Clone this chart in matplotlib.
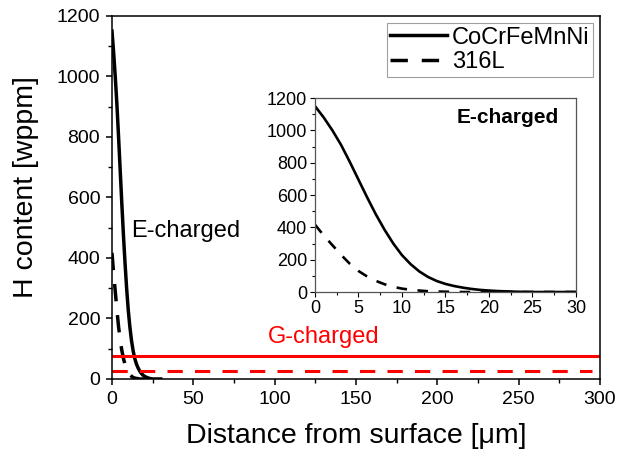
import matplotlib
matplotlib.use("Agg")
import matplotlib.pyplot as plt
from matplotlib.ticker import MultipleLocator

plt.rcParams['font.family'] = ['Liberation Sans', 'DejaVu Sans']

# hydrogen profiles (depth in um, H in wppm)
depth = list(range(0, 31))
h_cantor = [1150, 1080, 1000, 910, 805, 695, 585, 480, 385, 300, 228, 172, 127, 93, 68,
            50, 37, 27, 19, 13, 9, 6, 4, 2, 1, 0, 0, 0, 0, 0, 0]
h_316l = [417, 350, 290, 230, 175, 130, 96, 69, 48, 32, 21, 14, 9, 5, 3,
          2, 1, 0, 0, 0, 0, 0, 0, 0, 0, 0, 0, 0, 0, 0, 0]

# gas charged levels
g_range = [0, 300]
g_cantor = 75
g_316l = 25

fig = plt.figure(figsize=(6.17, 4.57), dpi=100)
ax = fig.add_axes([0.1815, 0.1707, 0.7909, 0.7943])

ax.plot(depth, h_cantor, color='k', lw=2.5, label='CoCrFeMnNi')
ax.plot(depth, h_316l, color='k', lw=2.5, dashes=(5, 4), label='316L')
ax.plot(g_range, [g_cantor, g_cantor], color='#ff0000', lw=2.2)
ax.plot([0, 295], [g_316l, g_316l], color='#ff0000', lw=2.2, dashes=(5, 4))

ax.set_xlim(0, 300)
ax.set_ylim(0, 1200)
ax.xaxis.set_major_locator(MultipleLocator(50))
ax.xaxis.set_minor_locator(MultipleLocator(25))
ax.yaxis.set_major_locator(MultipleLocator(200))
ax.yaxis.set_minor_locator(MultipleLocator(100))
ax.tick_params(which='major', direction='out', length=4.5, width=1.1, labelsize=14, pad=4)
ax.tick_params(which='minor', direction='out', length=2.8, width=1.0)
for s in ax.spines.values():
    s.set_linewidth(1.1)

ax.set_xlabel('Distance from surface [\u03bcm]', fontsize=20.5, labelpad=11)
ax.set_ylabel('H content [wppm]', fontsize=20.5)
ax.yaxis.set_label_coords(-0.15, 0.53)

ax.text(45.5, 489, 'E-charged', fontsize=17, ha='center', va='center')
ax.text(130, 139, 'G-charged', fontsize=17, ha='center', va='center', color='#ff0000')

leg = ax.legend(loc='upper right', fontsize=17, frameon=True, fancybox=False,
                borderaxespad=0.3, handlelength=2.4, handletextpad=0.2,
                borderpad=0.15, labelspacing=0.1)
leg.get_frame().set_edgecolor('#888888')
leg.get_frame().set_linewidth(0.8)

# inset zoom on first 30 um
ins = fig.add_axes([0.5105, 0.361, 0.423, 0.4245])
ins.plot(depth, h_cantor, color='k', lw=1.9)
ins.plot(depth, h_316l, color='k', lw=1.9, dashes=(4, 4))
ins.set_xlim(0, 30)
ins.set_ylim(0, 1200)
ins.xaxis.set_major_locator(MultipleLocator(5))
ins.xaxis.set_minor_locator(MultipleLocator(2.5))
ins.yaxis.set_major_locator(MultipleLocator(200))
ins.yaxis.set_minor_locator(MultipleLocator(100))
ins.tick_params(which='major', direction='out', length=3.5, width=0.8, labelsize=13, pad=2)
ins.tick_params(which='minor', direction='out', length=2, width=0.8)
for s in ins.spines.values():
    s.set_linewidth(0.9)
    s.set_color('#555555')
ins.text(0.74, 0.9, 'E-charged', transform=ins.transAxes, fontsize=15,
         fontweight='bold', ha='center', va='center')

fig.savefig('out.png', dpi=100)
